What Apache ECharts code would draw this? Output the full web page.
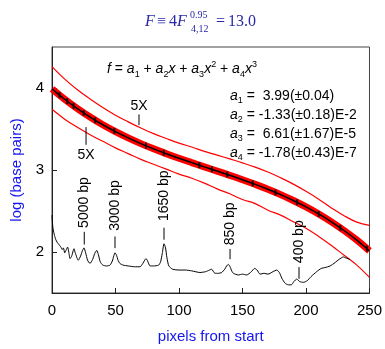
<!DOCTYPE html>
<html><head><meta charset="utf-8">
<script src="https://cdn.jsdelivr.net/npm/echarts@6/dist/echarts.min.js"></script>
<style>html,body{margin:0;padding:0;background:#fff}#c{width:385px;height:349px}</style>
</head><body><div id="c"></div>
<script>
// sample positions along the fitted curve (pixels from start)
const curveX = [0,10,20,30,40,50,60,70,80,90,100,110,120,130,140,150,160,170,180,190,200,210,220,230,240,250];
const fitY   = [3.990,3.863,3.749,3.646,3.552,3.468,3.392,3.322,3.258,3.199,3.143,3.090,3.038,2.987,2.935,2.882,2.825,2.765,2.700,2.628,2.550,2.464,2.368,2.262,2.145,2.015];
const upperY = [4.26,4.108,3.979,3.866,3.762,3.668,3.587,3.512,3.443,3.384,3.328,3.280,3.228,3.182,3.135,3.087,3.035,2.975,2.905,2.828,2.740,2.644,2.538,2.442,2.365,2.325];
const lowerY = [3.74,3.62,3.52,3.43,3.35,3.27,3.20,3.13,3.07,3.01,2.95,2.90,2.84,2.77,2.71,2.64,2.59,2.51,2.45,2.37,2.29,2.19,2.08,1.96,1.84,1.69];
// calibration points (peak positions)
const pointX = [6,12,17,25,34,49,74,88,116,126,138,158,176,193,210,227,248];
const pointY = [3.913,3.840,3.782,3.696,3.607,3.476,3.296,3.210,3.059,3.008,2.946,2.837,2.726,2.606,2.464,2.295,2.042];
// electropherogram trace
const traceX = [0,0.5,1,2,3,4,5,6,7,8,9,10,11,12.3,13.2,14.2,15.5,17.3,18.5,20.7,22.5,23.8,25.2,26.5,28,29.9,32,33.6,35.2,36.5,38,40,43,45.7,47.5,48.6,49.6,50.8,52,53.5,56,60,65,69.3,71.5,73,74,75.3,77.2,80,84,85.5,86.8,88.2,89.4,90.5,92,95,100,105,110,116.5,121,124,125.7,128.3,131,133.6,136,137.5,138.8,140.2,141.5,142.8,146.7,150,153.3,157,159.5,161.5,163.8,167,170,174,177,179,181,183.5,186,188.5,190.5,192.7,195,197.9,201,204,208.4,212,215,219,222.8,226,229.4,231,234.6];
const traceY = [2.45,2.33,2.27,2.20,2.15,2.12,2.10,2.08,2.06,2.03,2.05,1.99,2.02,2.06,2.00,1.92,1.95,2.04,1.98,1.90,1.95,2.01,2.05,1.99,1.90,1.86,1.91,1.98,2.02,1.97,1.88,1.84,1.83,1.84,1.89,1.95,1.99,1.96,1.90,1.86,1.84,1.83,1.82,1.82,1.86,1.90,1.92,1.89,1.83,1.83,1.84,1.88,1.98,2.10,2.05,1.93,1.83,1.79,1.78,1.78,1.77,1.75,1.76,1.78,1.79,1.74,1.74,1.75,1.79,1.83,1.85,1.82,1.77,1.74,1.72,1.73,1.72,1.76,1.80,1.78,1.73,1.74,1.73,1.76,1.78,1.75,1.68,1.62,1.60,1.60,1.64,1.67,1.64,1.63,1.65,1.70,1.76,1.80,1.81,1.83,1.87,1.91,1.94,1.93,1.91];
// peak annotations
const peakX = [25.4,49.6,88.2,140.2,194.5];
const peakLabels = ['5000 bp','3000 bp','1650 bp','850 bp','400 bp'];
const peakTextY = [2.294,2.258,2.377,2.081,1.864];
const peakTickTop = [2.246,2.190,2.297,2.037,1.816];
const peakTickBottom = [2.091,2.047,2.150,1.912,1.673];
// "5X" band annotations
const bandLabels = ['5X','5X'];
const bandX = [68.5,26.8];
const bandTextY = [3.773,3.177];
const bandTickTop = [3.678,3.523];
const bandTickBottom = [3.547,3.308];
// axes
const xTicks = [0,50,100,150,200,250];
const yTicks = [2,3,4];

const zip = (a,b)=>a.map((v,i)=>[v,b[i]]);
const FONT = '"Liberation Sans", Arial, sans-serif';
const SERIF = '"Liberation Serif", "Times New Roman", serif';

const peakData = peakX.map((x,i)=>[x,peakTextY[i],peakTickTop[i],peakTickBottom[i],i,1]);
const bandData = bandX.map((x,i)=>[x,bandTextY[i],bandTickTop[i],bandTickBottom[i],i,0]);

function renderAnno(params, api){
  const x = api.value(0), ty = api.value(1), t1 = api.value(2), t2 = api.value(3);
  const idx = api.value(4), rot = api.value(5);
  const pText = api.coord([x,ty]), p1 = api.coord([x,t1]), p2 = api.coord([x,t2]);
  const label = rot ? peakLabels[idx] : bandLabels[idx];
  return {type:'group', children:[
    {type:'line', shape:{x1:p1[0],y1:p1[1],x2:p2[0],y2:p2[1]}, style:{stroke:'#000',lineWidth:1}},
    {type:'text', x:pText[0], y:pText[1], rotation: rot ? Math.PI/2 : 0,
     style:{text:label, font:'14px '+FONT, fill:'#000', align: rot?'left':'center', verticalAlign:'middle'}}
  ]};
}

const chart = echarts.init(document.getElementById('c'), null, {renderer:'canvas'});
const rich = {
  i:{fontStyle:'italic', fontSize:14, fontFamily:FONT, color:'#000', lineHeight:19},
  n:{fontSize:14, fontFamily:FONT, color:'#000', lineHeight:19},
  s:{fontSize:9, fontFamily:FONT, color:'#000', lineHeight:9, verticalAlign:'bottom'},
  p:{fontSize:9, fontFamily:FONT, color:'#000', lineHeight:9, verticalAlign:'top'}
};
const coefLines = [
  '{i|a}{s|1}{n| =  3.99(±0.04)}',
  '{i|a}{s|2}{n| = -1.33(±0.18)E-2}',
  '{i|a}{s|3}{n| =  6.61(±1.67)E-5}',
  '{i|a}{s|4}{n| = -1.78(±0.43)E-7}'
];
const coefY = [99,118,137,156];
const titleColor = '#2828a8';
const graphics = [
  {type:'text', left:145, top:14, style:{text:'F', font:'italic 16px '+SERIF, fill:titleColor}},
  {type:'text', left:157, top:14, style:{text:'≡', font:'16px '+SERIF, fill:titleColor}},
  {type:'text', left:169, top:14, style:{text:'4', font:'16px '+SERIF, fill:titleColor}},
  {type:'text', left:177, top:14, style:{text:'F', font:'italic 16px '+SERIF, fill:titleColor}},
  {type:'text', left:190, top:10, style:{text:'0.95', font:'10px '+SERIF, fill:titleColor}},
  {type:'text', left:191, top:24, style:{text:'4,12', font:'10px '+SERIF, fill:titleColor}},
  {type:'text', left:216, top:14, style:{text:'=', font:'16px '+SERIF, fill:titleColor}},
  {type:'text', left:228, top:14, style:{text:'13.0', font:'16px '+SERIF, fill:titleColor}},
  {type:'text', left:107, top:60, style:{text:'{i|f}{n| = }{i|a}{s|1}{n| + }{i|a}{s|2}{i|x}{n| + }{i|a}{s|3}{i|x}{p|2}{n| + }{i|a}{s|4}{i|x}{p|3}', rich:rich}}
].concat(coefLines.map((t,i)=>({type:'text', left:230, top:coefY[i]-10, style:{text:t, rich:rich}})));

chart.setOption({
  animation:false,
  backgroundColor:'#fff',
  grid:{left:52, top:47, width:318, height:251, show:true, borderColor:'#444', borderWidth:1, backgroundColor:'transparent'},
  xAxis:{type:'value', min:0, max:250, interval:50,
    name:'pixels from start', nameLocation:'middle', nameGap:36,
    nameTextStyle:{color:'#1414ee', fontSize:15, fontFamily:FONT},
    axisLine:{show:true, lineStyle:{color:'#222', width:1}},
    axisTick:{show:true, inside:true, length:5, lineStyle:{color:'#222'}},
    axisLabel:{color:'#000', fontSize:15, fontFamily:FONT, margin:10, customValues:xTicks},
    splitLine:{show:false}},
  yAxis:{type:'value', min:1.5, max:4.5,
    name:'log (base pairs)', nameLocation:'middle', nameGap:24,
    nameTextStyle:{color:'#1414ee', fontSize:15, fontFamily:FONT},
    axisLine:{show:true, lineStyle:{color:'#222', width:1}},
    axisTick:{show:true, inside:true, length:5, lineStyle:{color:'#222'}, customValues:yTicks},
    axisLabel:{color:'#000', fontSize:15, fontFamily:FONT, margin:8, customValues:yTicks},
    splitLine:{show:false}},
  graphic:graphics,
  series:[
    {type:'line', data:zip(curveX,upperY), showSymbol:false, smooth:0.4, lineStyle:{color:'#ff0000', width:1.2}, z:2},
    {type:'line', data:zip(curveX,lowerY), showSymbol:false, smooth:0.4, lineStyle:{color:'#ff0000', width:1.2}, z:2},
    {type:'line', data:zip(curveX,fitY), showSymbol:false, smooth:0.4, lineStyle:{color:'#ff0000', width:7}, z:3},
    {type:'line', data:zip(curveX,fitY), showSymbol:false, smooth:0.4, lineStyle:{color:'#000', width:1.5}, z:4},
    {type:'scatter', data:zip(pointX,pointY), symbol:'rect', symbolSize:[2,6], itemStyle:{color:'#000'}, z:5},
    {type:'line', data:zip(traceX,traceY), showSymbol:false, smooth:0.2, lineStyle:{color:'#000', width:1}, z:4},
    {type:'custom', renderItem:renderAnno, data:peakData.concat(bandData), z:6, clip:false}
  ]
});
</script></body></html>
